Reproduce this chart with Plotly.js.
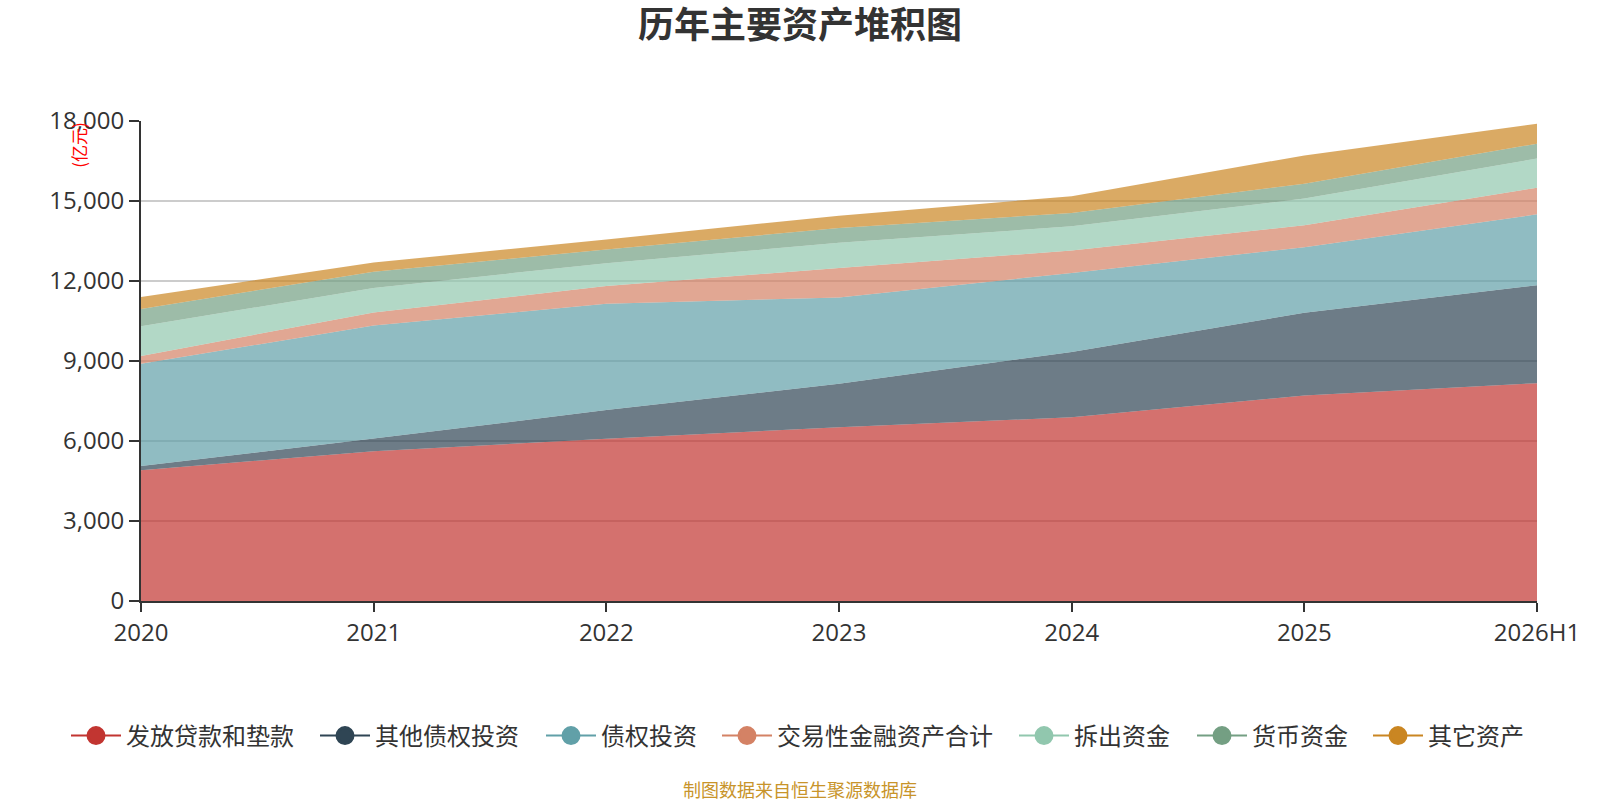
<!DOCTYPE html>
<html>
<head>
<meta charset="utf-8">
<script src="https://cdn.plot.ly/plotly-3.0.1.min.js"></script>
<style>html,body{margin:0;padding:0;background:#fff;}#chart{width:1600px;height:800px;}</style>
</head>
<body>
<div id="chart"></div>
<script>
// categories
const years = ['2020', '2021', '2022', '2023', '2024', '2025', '2026H1'];
// series values (亿元)
const loans      = [4900, 5620, 6080, 6520, 6890, 7710, 8170]; // 发放贷款和垫款
const otherDebt  = [160, 470, 1080, 1630, 2450, 3100, 3670];   // 其他债权投资
const debtInv    = [3840, 4240, 3990, 3230, 2960, 2460, 2660]; // 债权投资
const tradingFin = [290, 490, 660, 1110, 840, 820, 1000];      // 交易性金融资产合计
const lending    = [1110, 920, 860, 940, 910, 1000, 1090];     // 拆出资金
const cash       = [650, 610, 510, 560, 500, 560, 560];        // 货币资金
const otherAsset = [450, 340, 380, 460, 630, 1060, 750];       // 其它资产
// tick labels
const yTicks = [0, 3000, 6000, 9000, 12000, 15000, 18000];

const names  = ['发放贷款和垫款', '其他债权投资', '债权投资', '交易性金融资产合计', '拆出资金', '货币资金', '其它资产'];
const series = [loans, otherDebt, debtInv, tradingFin, lending, cash, otherAsset];
const colors = ['#c23531', '#2f4554', '#61a0a8', '#d48265', '#91c7ae', '#749f83', '#ca8622'];
// legend item left positions (px from page left)
const legendLeft = [71, 320, 546, 722, 1019, 1197, 1373];

function hexToRgba(hex, a) {
  const r = parseInt(hex.slice(1, 3), 16), g = parseInt(hex.slice(3, 5), 16), b = parseInt(hex.slice(5, 7), 16);
  return 'rgba(' + r + ',' + g + ',' + b + ',' + a + ')';
}

const plotL = 141, plotW = 1396;
const font = 'Open Sans, "Noto Sans CJK SC", sans-serif';
const cjk = '"Noto Sans CJK SC", sans-serif';

const traces = [];
series.forEach((vals, i) => {
  traces.push({
    type: 'scatter', mode: 'lines', x: years, y: vals, name: names[i],
    stackgroup: 'one', line: {width: 0, color: colors[i]},
    fillcolor: hexToRgba(colors[i], 0.7), showlegend: false, hoverinfo: 'x+y+name'
  });
});

const layout = {
  width: 1600, height: 800,
  paper_bgcolor: '#fff', plot_bgcolor: '#fff',
  margin: {l: 141, r: 63, t: 121, b: 199, pad: 0, autoexpand: false},
  font: {family: font, color: '#333', size: 24},
  title: {text: '<b>历年主要资产堆积图</b>', x: 0.5, xanchor: 'center', y: 1 - 25 / 800, yanchor: 'middle', yref: 'container',
          font: {family: cjk, size: 36, color: '#333'}},
  xaxis: {
    type: 'category', range: [0, 6], showgrid: false, zeroline: false,
    showline: true, linecolor: '#333', linewidth: 2,
    ticks: 'outside', ticklen: 9, tickwidth: 2, tickcolor: '#333',
    tickfont: {size: 24, color: '#333', family: font}, fixedrange: true, automargin: false
  },
  yaxis: {
    range: [0, 18000], tickvals: yTicks, tickformat: ',d',
    showgrid: true, gridcolor: '#ccc', gridwidth: 1.5, zeroline: false,
    showline: true, linecolor: '#333', linewidth: 2,
    ticks: 'outside', ticklen: 10, tickwidth: 2, tickcolor: '#333',
    tickfont: {size: 24, color: '#333', family: font}, fixedrange: true, automargin: false
  },
  annotations: [
    {text: '(亿元)', xref: 'paper', yref: 'paper', x: (78.5 - plotL) / plotW, y: (600.7 - 145) / 480, xanchor: 'center', yanchor: 'middle',
     textangle: -90, showarrow: false, font: {size: 17, color: 'red', family: cjk}},
    {text: '制图数据来自恒生聚源数据库', xref: 'paper', yref: 'paper', x: (800 - plotL) / plotW, y: -(789 - 600.7) / 480,
     xanchor: 'center', yanchor: 'middle', showarrow: false,
     font: {size: 18, color: '#c8942a', family: cjk}}
  ],
  showlegend: true
};

// legend entries: one legend per item so spacing matches the reference
series.forEach((vals, i) => {
  const key = i === 0 ? 'legend' : 'legend' + (i + 1);
  traces.push({
    type: 'scatter', mode: 'lines+markers', x: [null], y: [null], name: names[i],
    line: {width: 2, color: colors[i]},
    marker: {size: 22, color: colors[i], line: {width: 3, color: colors[i]}},
    showlegend: true, hoverinfo: 'skip', legend: key
  });
  layout[key] = {
    orientation: 'h', xref: 'paper', x: (legendLeft[i] - 5 - plotL) / plotW, xanchor: 'left',
    yref: 'container', y: 1 - 736 / 800, yanchor: 'middle',
    font: {size: 24, color: '#333', family: cjk},
    itemwidth: 50, bgcolor: 'rgba(0,0,0,0)', borderwidth: 0
  };
});

Plotly.newPlot('chart', traces, layout, {displayModeBar: false, staticPlot: true});
</script>
</body>
</html>
